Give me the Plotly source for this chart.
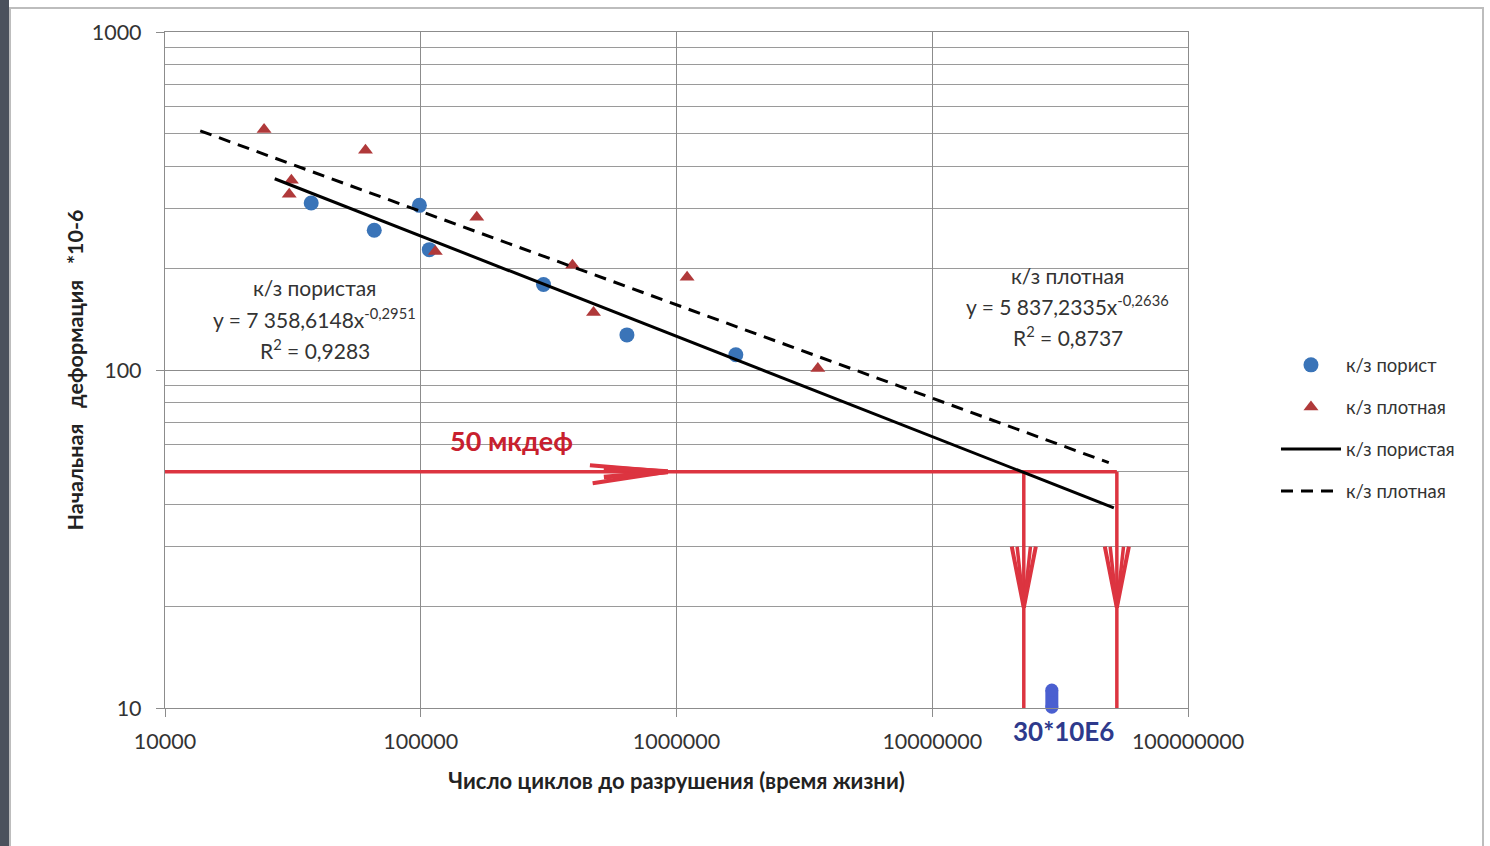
import plotly.graph_objects as go

# ---------------- data ----------------
porous_x = [37300, 65800, 98800, 108000, 302000, 640000, 1706000]
porous_y = [312, 259, 307, 227, 179, 127, 111]

dense_x = [24400, 31200, 30600, 60800, 114000, 165600, 392000, 473800, 1100000, 3570000]
dense_y = [515, 364, 331, 447, 224, 283, 204, 148, 188, 101]

porous_trend_x = [26850, 51300000]
porous_trend_y = [368, 39.1]
dense_trend_x = [13730, 49000000]
dense_trend_y = [510, 53.2]

limit_level = 50
limit_x_start = 10000
life_porous = 22800000
life_dense = 52700000
axis_bottom = 10
marker_30e6_x = 29350000
marker_30e6_y = [10.05, 11.3]

x_ticks = [10000, 100000, 1000000, 10000000, 100000000]
x_tick_text = ["10000", "100000", "1000000", "10000000", "100000000"]
y_ticks = [10, 100, 1000]
y_tick_text = ["10", "100", "1000"]
y_minor = [m * d for d in (10, 100) for m in range(2, 10)]

FONT = "Lato, Noto Sans, sans-serif"
RED = "#dc3440"
BLUE = "#3a74b8"
TRI = "#b0393a"
GRID = "#9a9a9a"
TXT = "#333333"

fig = go.Figure()

# red guide lines
fig.add_trace(go.Scatter(x=[limit_x_start, life_dense], y=[limit_level, limit_level], mode="lines",
                         line=dict(color=RED, width=3.5), showlegend=False, hoverinfo="skip"))
for lx in (life_porous, life_dense):
    fig.add_trace(go.Scatter(x=[lx, lx], y=[limit_level, axis_bottom], mode="lines",
                             line=dict(color=RED, width=3.5), showlegend=False, hoverinfo="skip",
                             cliponaxis=False))
    # V-shaped arrow heads
    for k, w in ((0.047, 4), (0.026, 3.5)):
        fig.add_trace(go.Scatter(x=[lx * 10 ** -k, lx, lx * 10 ** k], y=[30, 19.8, 30], mode="lines",
                                 line=dict(color=RED, width=w), showlegend=False, hoverinfo="skip"))

# horizontal arrow head
fig.add_trace(go.Scatter(x=[458600, 925000, 470000], y=[52.3, 50, 46.2], mode="lines",
                         line=dict(color=RED, width=4), showlegend=False, hoverinfo="skip"))
fig.add_trace(go.Scatter(x=[520000, 925000, 520000], y=[51.4, 50, 48.2], mode="lines",
                         line=dict(color=RED, width=5), showlegend=False, hoverinfo="skip"))

# blue capsule at 30e6
fig.add_trace(go.Scatter(x=[marker_30e6_x, marker_30e6_x], y=marker_30e6_y, mode="lines+markers",
                         line=dict(color="#4a5fd0", width=13),
                         marker=dict(color="#4a5fd0", size=13, symbol="circle"),
                         showlegend=False, hoverinfo="skip", cliponaxis=False))

# data series
fig.add_trace(go.Scatter(x=porous_x, y=porous_y, mode="markers", name="к/з порист",
                         marker=dict(color=BLUE, size=15, symbol="circle"), legendgroup="a"))
fig.add_trace(go.Scatter(x=dense_x, y=dense_y, mode="markers", name="к/з плотная",
                         marker=dict(color=TRI, size=13, symbol="triangle-up"), legendgroup="b"))
fig.add_trace(go.Scatter(x=porous_trend_x, y=porous_trend_y, mode="lines", name="к/з пористая",
                         line=dict(color="black", width=3), legendgroup="c"))
fig.add_trace(go.Scatter(x=dense_trend_x, y=dense_trend_y, mode="lines", name="к/з плотная",
                         line=dict(color="black", width=3, dash="12px,8px"), legendgroup="d"))

annos = [
    dict(x=4.586, y=2.245, text="к/з пористая"),
    dict(x=4.586, y=2.155, text="y = 7 358,6148x<sup>-0,2951</sup>"),
    dict(x=4.586, y=2.063, text="R<sup>2</sup> = 0,9283"),
    dict(x=7.530, y=2.280, text="к/з плотная"),
    dict(x=7.530, y=2.192, text="y = 5 837,2335x<sup>-0,2636</sup>"),
    dict(x=7.530, y=2.100, text="R<sup>2</sup> = 0,8737"),
]
for a in annos:
    fig.add_annotation(x=a["x"], y=a["y"], xref="x", yref="y", text=a["text"], showarrow=False,
                       font=dict(family=FONT, size=21, color=TXT))

fig.add_annotation(x=5.355, y=1.79, xref="x", yref="y", text="<b>50 мкдеф</b>", showarrow=False,
                   font=dict(family=FONT, size=27, color="#c8202e"))
fig.add_annotation(x=7.5145, y=-0.034, xref="x", yref="paper", yanchor="middle", xanchor="center",
                   text="<b>30*10E6</b>", showarrow=False,
                   font=dict(family=FONT, size=26, color="#2e3a8c"))

# outer frame and left photo edge
fig.add_shape(type="rect", xref="paper", yref="paper",
              x0=(10 - 165) / 1023, x1=(1483 - 165) / 1023, y0=(708 - 852) / 676, y1=(708 - 8) / 676,
              line=dict(color="#bdbdbd", width=2), fillcolor="rgba(0,0,0,0)", layer="below")
fig.add_shape(type="rect", xref="paper", yref="paper",
              x0=(-2 - 165) / 1023, x1=(9 - 165) / 1023, y0=(708 - 860) / 676, y1=(708 + 10) / 676,
              line=dict(width=0), fillcolor="#4b515c", layer="below")

sp = "\u00a0"
fig.update_layout(
    width=1490, height=846,
    margin=dict(l=165, r=302, t=32, b=138),
    paper_bgcolor="white", plot_bgcolor="white",
    font=dict(family=FONT, color=TXT),
    showlegend=True,
    legend=dict(x=1.086, y=0.535, xanchor="left", yanchor="top", itemwidth=60,
                tracegroupgap=15, font=dict(family=FONT, size=18.5, color=TXT),
                bgcolor="rgba(0,0,0,0)"),
    xaxis=dict(type="log", range=[4, 8], tickvals=x_ticks, ticktext=x_tick_text,
               showgrid=True, gridcolor="#8c8c8c", gridwidth=1.2,
               ticks="outside", ticklen=8, tickcolor="#8c8c8c", ticklabelstandoff=6,
               showline=True, linecolor="#8c8c8c", mirror=True, linewidth=1.2,
               tickfont=dict(family=FONT, size=21.5, color=TXT), zeroline=False,
               title=dict(text="<b>Число циклов до разрушения (время жизни)</b>", standoff=20,
                          font=dict(family=FONT, size=22, color="#222"))),
    yaxis=dict(type="log", range=[1, 3], tickvals=y_ticks, ticktext=y_tick_text,
               showgrid=True, gridcolor="#8c8c8c", gridwidth=1.2,
               ticks="outside", ticklen=8, tickcolor="#8c8c8c", ticklabelstandoff=10,
               showline=True, linecolor="#8c8c8c", mirror=True, linewidth=1.2,
               tickfont=dict(family=FONT, size=21.5, color=TXT), zeroline=False,
               minor=dict(tickvals=y_minor, showgrid=True, gridcolor=GRID, gridwidth=1, ticks=""),
               title=dict(text="<b>Начальная" + sp * 3 + "деформация" + sp * 3 + "*10-6</b>", standoff=2,
                          font=dict(family=FONT, size=21.5, color="#222"))),
)

fig.write_html("out.html", config={"displayModeBar": False},
               post_script="document.body.style.margin='0';document.body.style.overflow='hidden';")
